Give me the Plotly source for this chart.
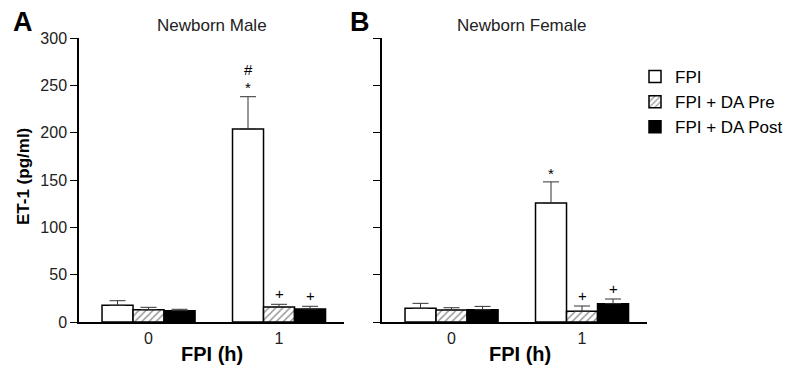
import plotly.graph_objects as go

times = [0, 1]
tick_labels = ["0", "1"]
series_names = ["FPI", "FPI + DA Pre", "FPI + DA Post"]

male_fpi = [17.6, 204.0]
male_fpi_err = [4.9, 34.0]
male_pre = [13.0, 15.8]
male_pre_err = [2.5, 2.9]
male_post = [12.0, 13.7]
male_post_err = [1.4, 2.9]

female_fpi = [14.4, 125.6]
female_fpi_err = [5.3, 22.4]
female_pre = [12.7, 11.3]
female_pre_err = [2.4, 5.6]
female_post = [13.0, 19.4]
female_post_err = [3.5, 4.9]

# significance marks: (panel, time, series index, text, y)
marks = [
    ("A", 1, 0, "#", 267),
    ("A", 1, 0, "*", 248),
    ("A", 1, 1, "+", 30),
    ("A", 1, 2, "+", 28),
    ("B", 1, 0, "*", 157),
    ("B", 1, 1, "+", 28),
    ("B", 1, 2, "+", 35),
]

FONT = "Arial, Liberation Sans, sans-serif"
bargap = 0.287
styles = [
    dict(color="white", pattern=None),
    dict(color="white", pattern=dict(shape="/", fgcolor="#333", size=5, solidity=0.3)),
    dict(color="black", pattern=None),
]

fig = go.Figure()
panels = [
    ("x", "y", [(male_fpi, male_fpi_err), (male_pre, male_pre_err), (male_post, male_post_err)]),
    ("x2", "y2", [(female_fpi, female_fpi_err), (female_pre, female_pre_err), (female_post, female_post_err)]),
]
for pi, (xa, ya, data) in enumerate(panels):
    for si, (vals, errs) in enumerate(data):
        st = styles[si]
        marker = dict(color=st["color"], line=dict(color="black", width=1.5))
        if st["pattern"]:
            marker["pattern"] = st["pattern"]
        fig.add_trace(go.Bar(
            x=times, y=vals, xaxis=xa, yaxis=ya, name=series_names[si],
            marker=marker, showlegend=(pi == 1), legendgroup=series_names[si],
            error_y=dict(type="data", symmetric=False, array=errs,
                         arrayminus=[0] * len(errs), color="#333", thickness=1, width=8),
        ))

bw = (1 - bargap) / 3
for panel, t, si, txt, yv in marks:
    xa, ya = ("x", "y") if panel == "A" else ("x2", "y2")
    fig.add_annotation(x=t + (si - 1) * bw, y=yv, xref=xa, yref=ya, text=txt,
                       xanchor="center", yanchor="middle",
                       showarrow=False, font=dict(size=15, color="black", family=FONT))

xcommon = dict(range=[-0.533, 1.498], tickvals=times, ticktext=tick_labels,
               showline=True, linecolor="black", linewidth=1.5, ticks="outside",
               ticklen=1, tickcolor="rgba(0,0,0,0)", showgrid=False, zeroline=False,
               automargin=False,
               tickfont=dict(size=16, family=FONT, color="#222"))
ycommon = dict(range=[0, 300], tickvals=[0, 50, 100, 150, 200, 250, 300],
               showline=True, linecolor="black", linewidth=1.5, ticks="outside",
               ticklen=7, tickwidth=1.2, tickcolor="black", showgrid=False, zeroline=False,
               automargin=False,
               tickfont=dict(size=16, family=FONT, color="#222"))

fig.update_layout(
    width=785, height=380, margin=dict(l=0, r=0, t=0, b=0, autoexpand=False),
    plot_bgcolor="white", paper_bgcolor="white",
    barmode="group", bargap=bargap, bargroupgap=0,
    font=dict(family=FONT, color="black"),
    xaxis=dict(domain=[79 / 785, 344 / 785], anchor="y", **xcommon),
    xaxis2=dict(domain=[382 / 785, 647 / 785], anchor="y2", **xcommon),
    yaxis=dict(domain=[58 / 380, 342 / 380], anchor="x", **ycommon),
    yaxis2=dict(domain=[58 / 380, 342 / 380], anchor="x2", showticklabels=False, **ycommon),
    legend=dict(x=635 / 785, y=1 - 59 / 380, xanchor="left", yanchor="top",
                font=dict(size=17, family=FONT, color="black"), bgcolor="rgba(0,0,0,0)",
                tracegroupgap=0, itemwidth=30),
    showlegend=True,
)

texts = [
    ("Newborn Male", 212, 26, 17, False, 0),
    ("Newborn Female", 521, 26, 17, False, 0),
    ("<b>A</b>", 22.5, 22, 27, True, 0),
    ("<b>B</b>", 360, 22, 27, True, 0),
    ("<b>FPI (h)</b>", 212, 354, 20, True, 0),
    ("<b>FPI (h)</b>", 520, 354, 20, True, 0),
    ("<b>ET-1 (pg/ml)</b>", 23, 177, 17, True, -90),
]
for txt, px, py, fs, bold, ang in texts:
    fig.add_annotation(x=px / 785, y=1 - py / 380, xref="paper", yref="paper", text=txt,
                       xanchor="center", yanchor="middle", textangle=ang,
                       showarrow=False, font=dict(size=fs, family=FONT, color="black" if bold else "#222"))

fig.write_html("out.html", config={"displayModeBar": False},
               post_script="document.body.style.margin='0';")
